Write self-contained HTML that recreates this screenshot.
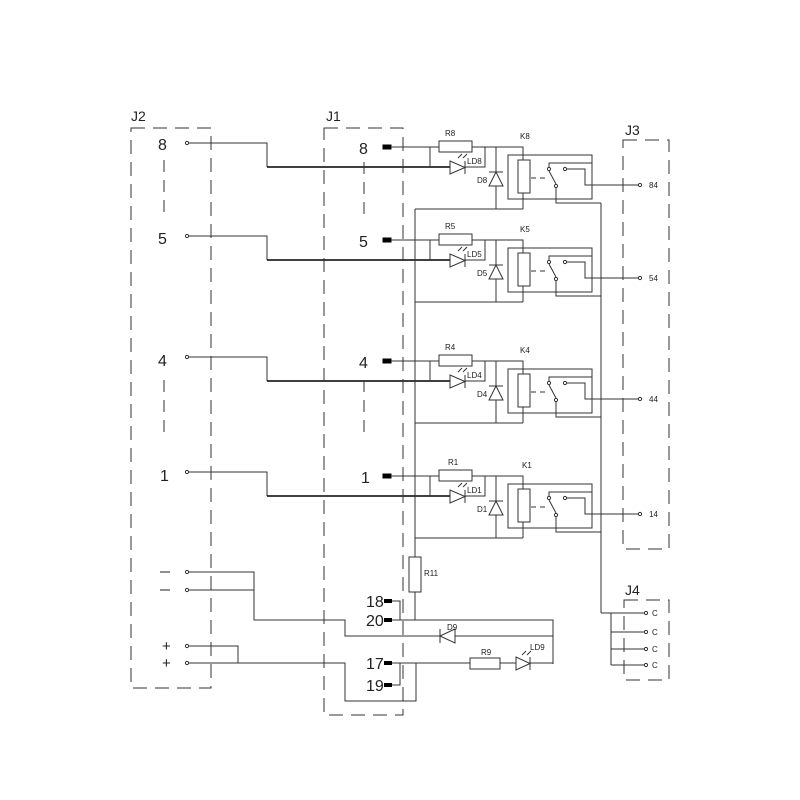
<!DOCTYPE html>
<html><head><meta charset="utf-8"><style>html,body{margin:0;padding:0;background:#fff}svg{display:block}</style></head><body>
<svg width="800" height="800" viewBox="0 0 800 800" xmlns="http://www.w3.org/2000/svg" font-family="Liberation Sans, sans-serif">
<defs>
<g id="ch" fill="none" stroke="#333" stroke-width="1">
  <circle cx="187" cy="143" r="1.6"/>
  <polyline points="189,143 267,143 267,167"/>
  <polyline points="267,167 450,167" stroke="#000" stroke-width="1.6"/>
  <rect x="383" y="145" width="8" height="4" fill="#000" stroke="#000"/>
  <polyline points="391,147 439,147"/>
  <rect x="439" y="141" width="33" height="11"/>
  <polyline points="472,147 523,147 523,160"/>
  <line x1="430" y1="147" x2="430" y2="167"/>
  <polygon points="450,161 450,174 465,167.5"/>
  <line x1="465" y1="161" x2="465" y2="174"/>
  <polyline points="465,167 485,167 485,147"/>
  <line x1="458" y1="158" x2="462" y2="154"/><line x1="463" y1="158" x2="467" y2="154"/>
  <line x1="496" y1="147" x2="496" y2="209"/>
  <polygon points="489,186 503,186 496,172" fill="#fff"/>
  <line x1="489" y1="172" x2="503" y2="172"/>
  <rect x="518" y="160" width="12" height="33"/>
  <line x1="523" y1="193" x2="523" y2="209"/>
  <line x1="415" y1="209" x2="523" y2="209"/>
  <rect x="508" y="155" width="84" height="44"/>
  <line x1="531" y1="178" x2="548" y2="178" stroke-dasharray="5,4"/>
  <polyline points="549,167 549,163 592,163"/>
  <circle cx="549" cy="169" r="1.6"/>
  <circle cx="565" cy="169" r="1.6"/>
  <line x1="549" y1="171" x2="556" y2="184"/>
  <circle cx="556" cy="186" r="1.6"/>
  <polyline points="567,169 585,169 585,185 638,185"/>
  <circle cx="640" cy="185" r="1.6"/>
  <polyline points="556,188 556,203 601,203"/>
</g>
</defs>
<g font-size="9" fill="#222">
<use href="#ch"/>
<text x="158" y="150" font-size="16">8</text><text x="359" y="154" font-size="16">8</text>
<text x="445" y="136" font-size="8">R8</text><text x="520" y="139" font-size="8">K8</text><text x="467" y="164" font-size="8">LD8</text><text x="477" y="183" font-size="8">D8</text><text x="649" y="188" font-size="8">84</text>
<use href="#ch" y="93"/>
<text x="158" y="244" font-size="16">5</text><text x="359" y="247" font-size="16">5</text>
<text x="445" y="229" font-size="8">R5</text><text x="520" y="232" font-size="8">K5</text><text x="467" y="257" font-size="8">LD5</text><text x="477" y="276" font-size="8">D5</text><text x="649" y="281" font-size="8">54</text>
<use href="#ch" y="214"/>
<text x="158" y="366" font-size="16">4</text><text x="359" y="368" font-size="16">4</text>
<text x="445" y="350" font-size="8">R4</text><text x="520" y="353" font-size="8">K4</text><text x="467" y="378" font-size="8">LD4</text><text x="477" y="397" font-size="8">D4</text><text x="649" y="402" font-size="8">44</text>
<use href="#ch" y="329"/>
<text x="160" y="481" font-size="16">1</text><text x="361" y="483" font-size="16">1</text>
<text x="448" y="465" font-size="8">R1</text><text x="522" y="468" font-size="8">K1</text><text x="467" y="493" font-size="8">LD1</text><text x="477" y="512" font-size="8">D1</text><text x="649" y="517" font-size="8">14</text>
</g>
<g fill="none" stroke="#333" stroke-width="1">
<rect x="131" y="128" width="80" height="560" stroke-dasharray="14,8"/>
<rect x="324" y="128" width="79" height="587" stroke-dasharray="14,8"/>
<rect x="623" y="140" width="46" height="409" stroke-dasharray="14,8"/>
<rect x="624" y="600" width="45" height="80" stroke-dasharray="14,8"/>
<line x1="164" y1="160" x2="164" y2="215" stroke-dasharray="12,8"/>
<line x1="364" y1="162" x2="364" y2="215" stroke-dasharray="12,8"/>
<line x1="164" y1="380" x2="164" y2="440" stroke-dasharray="12,8"/>
<line x1="364" y1="380" x2="364" y2="440" stroke-dasharray="12,8"/>
<line x1="415" y1="209" x2="415" y2="557"/>
<rect x="409" y="557" width="12" height="35"/>
<line x1="415" y1="592" x2="415" y2="620"/>
<line x1="601" y1="203" x2="601" y2="613"/>
<polyline points="601,613 644,613"/>
<line x1="611" y1="613" x2="611" y2="665"/>
<line x1="611" y1="632" x2="644" y2="632"/><line x1="611" y1="649" x2="644" y2="649"/><line x1="611" y1="665" x2="644" y2="665"/>
<circle cx="646" cy="613" r="1.6"/><circle cx="646" cy="632" r="1.6"/><circle cx="646" cy="649" r="1.6"/><circle cx="646" cy="665" r="1.6"/>
<circle cx="187" cy="572" r="1.6"/><circle cx="187" cy="590" r="1.6"/>
<polyline points="189,572 254,572 254,620 345,620 345,636 440,636"/>
<line x1="189" y1="590" x2="254" y2="590"/>
<polygon points="440,636 455,629 455,643"/><line x1="440" y1="629" x2="440" y2="643"/>
<polyline points="455,636 553,636"/>
<polyline points="392,620 553,620 553,664"/>
<circle cx="187" cy="646" r="1.6"/><circle cx="187" cy="663" r="1.6"/>
<polyline points="189,646 238,646 238,663"/>
<polyline points="189,663 345,663 345,701 416,701 416,663"/>
<polyline points="392,663 470,663"/>
<rect x="470" y="658" width="30" height="11"/>
<polyline points="500,663 516,663"/>
<polygon points="516,657 516,670 530,663.5"/><line x1="530" y1="657" x2="530" y2="670"/>
<line x1="522" y1="655" x2="526" y2="651"/><line x1="527" y1="655" x2="531" y2="651"/>
<line x1="530" y1="663" x2="553" y2="663"/>
<polyline points="392,601 400,601 400,620"/>
<polyline points="392,663 400,663 400,685 392,685"/>
</g>
<g fill="#000">
<rect x="384" y="599" width="8" height="4"/><rect x="384" y="618" width="8" height="4"/>
<rect x="384" y="661" width="8" height="4"/><rect x="384" y="683" width="8" height="4"/>
</g>
<g fill="#222">
<text x="131" y="121" font-size="14">J2</text><text x="326" y="121" font-size="14">J1</text>
<text x="625" y="135" font-size="14">J3</text><text x="625" y="595" font-size="14">J4</text>
<line x1="160" y1="572" x2="170" y2="572" stroke="#222"/><line x1="160" y1="590" x2="170" y2="590" stroke="#222"/>
<text x="162" y="651" font-size="15">+</text><text x="162" y="668" font-size="15">+</text>
<text x="366" y="607" font-size="16">18</text><text x="366" y="626" font-size="16">20</text>
<text x="366" y="669" font-size="16">17</text><text x="366" y="691" font-size="16">19</text>
<text x="424" y="576" font-size="8">R11</text><text x="447" y="630" font-size="8">D9</text>
<text x="481" y="655" font-size="8">R9</text><text x="530" y="650" font-size="8">LD9</text>
<text x="652" y="616" font-size="8">C</text><text x="652" y="635" font-size="8">C</text><text x="652" y="652" font-size="8">C</text><text x="652" y="668" font-size="8">C</text>
</g>
</svg>
</body></html>
